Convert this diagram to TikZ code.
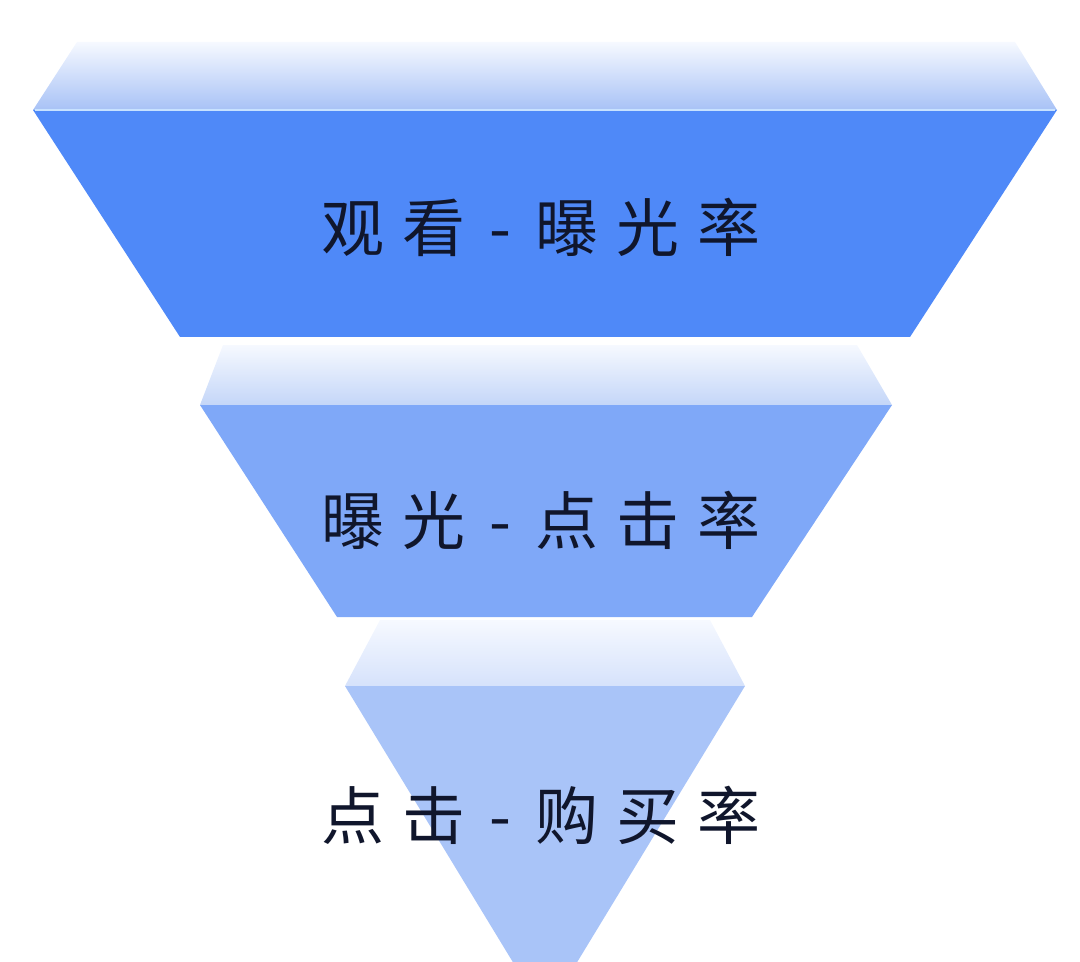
\documentclass[tikz,border=0pt]{standalone}
\usepackage{fontspec}
\newfontfamily\cjk[WordSpace=1.3]{Noto Sans CJK SC}
\definecolor{faceA}{RGB}{79,137,248}
\definecolor{faceB}{RGB}{127,168,248}
\definecolor{faceC}{RGB}{169,196,248}
\definecolor{bevelTop}{RGB}{246,249,255}
\definecolor{bevelA}{RGB}{168,194,246}
\definecolor{bevelB}{RGB}{196,214,248}
\definecolor{bevelC}{RGB}{214,226,251}
\definecolor{seam}{RGB}{200,226,255}
\definecolor{ink}{RGB}{16,22,44}
\newcommand{\sep}{\hspace{0.09em}-\hspace{0.09em}}

\begin{document}
\begin{tikzpicture}[
  x=0.5pt, y=-0.5pt,
  bevel/.style={draw=none, top color=bevelTop},
  seamline/.style={seam, line width=1.2pt},
  rate/.style={font=\cjk\fontsize{31.5}{36}\selectfont, text=ink, inner sep=0pt}
]
\useasboundingbox (0,0) rectangle (1080,962);
\clip (0,0) rectangle (1080,962);

% Top layer
\shade[bevel, bottom color=bevelA] (77,42) -- (1015,42) -- (1057,110) -- (33,110) -- cycle;
\fill[faceA] (33,110) -- (1057,110) -- (910,337) -- (180,337) -- cycle;
\draw[seamline] (35,110) -- (1055,110);
\node[rate] (view) at (541,227) {观 看 \sep{} 曝 光 率};

% Middle layer
\shade[bevel, bottom color=bevelB] (223,345) -- (857,345) -- (892,405) -- (200,405) -- cycle;
\fill[faceB] (200,405) -- (892,405) -- (752,617) -- (337,617) -- cycle;
\node[rate] (click) at (541,520) {曝 光 \sep{} 点 击 率};

% Bottom layer
\shade[bevel, bottom color=bevelC] (380,620) -- (710,620) -- (745,686) -- (345,686) -- cycle;
\fill[faceC] (345,686) -- (745,686) -- (545,1015) -- cycle;
\node[rate] (buy) at (541,815) {点 击 \sep{} 购 买 率};

\end{tikzpicture}
\end{document}
